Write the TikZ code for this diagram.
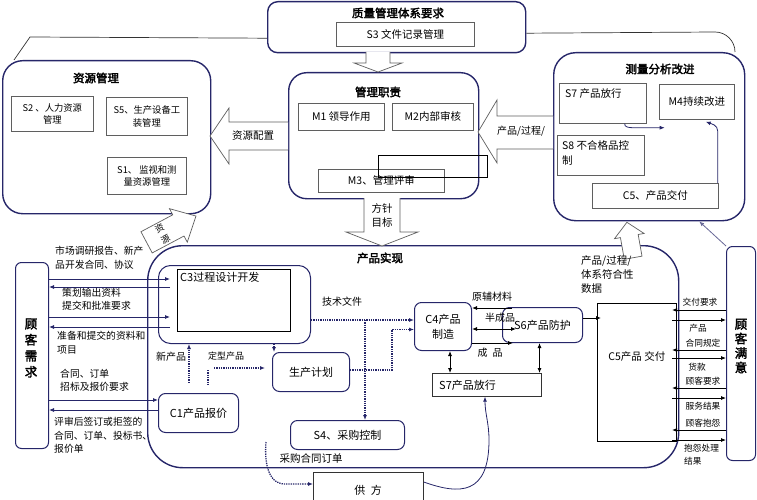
\documentclass[tikz,border=0pt]{standalone}
\usepackage{fontspec}
\newfontfamily\cjk[AutoFakeBold=2.5]{Noto Sans CJK SC}
\usetikzlibrary{arrows.meta,positioning}
\definecolor{navy}{RGB}{38,38,105}
\definecolor{boxgray}{RGB}{95,95,95}

\begin{document}
\begin{tikzpicture}[x=1pt,y=-1pt,
  font=\cjk\fontsize{10}{12}\selectfont,
  big/.style={draw=navy,line width=1.4pt,anchor=north west,inner sep=0pt},
  rbox/.style={draw=navy,line width=1pt,rounded corners=7pt,anchor=north west,inner sep=0pt,
    font=\cjk\fontsize{11}{13}\selectfont},
  inbox/.style={draw=boxgray,line width=0.7pt,anchor=north west,inner sep=0pt,align=center,
    font=\cjk\fontsize{10.5}{13}\selectfont},
  smallbox/.style={inbox,font=\cjk\fontsize{9.3}{12.5}\selectfont},
  title/.style={font=\cjk\bfseries\fontsize{11.5}{13}\selectfont},
  lab/.style={inner sep=0pt,align=left,font=\cjk\fontsize{9.8}{13.5}\selectfont},
  rlab/.style={inner sep=0pt,font=\cjk\fontsize{8.7}{13}\selectfont},
  arr/.style={-{Latex[length=5pt,width=4pt]},draw=navy,line width=0.8pt},
  barr/.style={-{Latex[length=5pt,width=4pt]},line width=0.8pt},
  both/.style={{Latex[length=5pt,width=4pt]}-{Latex[length=5pt,width=4pt]},line width=0.8pt},
  dots/.style={draw=navy,densely dotted,line width=1.3pt},
  hollow/.style={draw=boxgray,line width=0.7pt,fill=white},
  link/.style={draw=black!80,line width=0.7pt}]
\useasboundingbox (0,0) rectangle (757,500);

% quality system
\node[big,rounded corners=10pt,minimum width=258pt,minimum height=51pt] (qms) at (267,1) {};
\node[title] (qmsT) at (398,13) {质量管理体系要求};
\node[inbox,minimum width=138pt,minimum height=24pt] (s3) at (336,22) {S3 文件记录管理};

% management
\node[big,rounded corners=18pt,minimum width=190pt,minimum height=126pt] (mgt) at (288,72) {};
\node[title] (mgtT) at (378,92) {管理职责};
\node[inbox,minimum width=86pt,minimum height=27pt] (m1) at (298,103) {M1 领导作用};
\node[inbox,minimum width=81pt,minimum height=27pt] (m2) at (392,103) {M2内部审核};
\node[inbox,minimum width=126pt,minimum height=23pt] (m3) at (318,169) {M3、管理评审};

% resources
\node[big,rounded corners=20pt,minimum width=208pt,minimum height=153pt] (res) at (2,60) {};
\node[title] (resT) at (96,78) {资源管理};
\node[smallbox,minimum width=82pt,minimum height=35pt] (s2) at (11,96) {S2 、人力资源\\管理};
\node[smallbox,minimum width=81pt,minimum height=38pt] (s5) at (106,97) {S5、生产设备工\\装管理};
\node[smallbox,minimum width=79pt,minimum height=37pt] (s1) at (107,157) {S1、 监视和测\\量资源管理};

% measurement
\node[big,rounded corners=22pt,minimum width=191pt,minimum height=168pt] (msr) at (553,52) {};
\node[title] (msrT) at (660,69) {测量分析改进};
\node[inbox,minimum width=87pt,minimum height=40pt,
  label={[lab,font=\cjk\fontsize{10.5}{15}\selectfont,anchor=north west,xshift=6pt,yshift=-5pt]north west:S7 产品放行}] (s7m) at (559,83) {};
\node[inbox,minimum width=75pt,minimum height=35pt] (m4) at (659,84) {M4持续改进};
\node[inbox,minimum width=87pt,minimum height=40pt,
  label={[lab,font=\cjk\fontsize{10.5}{15}\selectfont,anchor=north west,xshift=5pt,yshift=-5pt]north west:{S8 不合格品控\\制}}] (s8) at (557,135) {};
\node[inbox,minimum width=126pt,minimum height=25pt] (c5m) at (592,183) {C5、产品交付};
\draw[arr] ([xshift=-22pt]s7m.south east) to[out=-100,in=180] ++(8,4) -- ++(32,0);
\draw[arr] ([xshift=-1pt]c5m.north east) -- ++(0,-52) to[out=90,in=-20] ([xshift=-29pt,yshift=-2pt]m4.south east);

% product realization
\node[big,rounded corners=35pt,minimum width=531pt,minimum height=222pt] (real) at (147,245) {};
\node[title] (realT) at (380,258) {产品实现};
\node[rbox,rounded corners=12pt,minimum width=152pt,minimum height=78pt] (c3) at (158,265) {};
\node[inbox,draw=black,minimum width=113pt,minimum height=62pt,
  label={[lab,font=\cjk\fontsize{11}{13}\selectfont,anchor=north west,xshift=3pt,yshift=-3pt]north west:C3过程设计开发}] (c3in) at (177,269) {};
\node[rbox,minimum width=77pt,minimum height=39pt] (plan) at (272,352) {生产计划};
\node[rbox,minimum width=80pt,minimum height=39pt] (c1) at (158,393) {C1产品报价};
\node[rbox,minimum width=114pt,minimum height=29pt] (s4) at (290,420) {S4、采购控制};
\node[rbox,minimum width=57pt,minimum height=48pt,align=center,font=\cjk\fontsize{11}{15}\selectfont] (c4) at (414,302) {C4产品\\制造};
\node[rbox,minimum width=80pt,minimum height=35pt] (s6) at (502,307) {S6产品防护};
\node[inbox,draw=black!80,minimum width=109pt,minimum height=23pt,
  label={[lab,font=\cjk\fontsize{11}{13}\selectfont,anchor=west,xshift=7pt]west:S7产品放行}] (s7) at (432,373) {};
\node[inbox,draw=black,minimum width=79pt,minimum height=138pt,
  label={[font=\cjk\fontsize{10.5}{13}\selectfont,yshift=-62pt]north:C5产品 交付}] (c5) at (597,303) {};
\node[inbox,draw=black!80,minimum width=110pt,minimum height=40pt] (sup) at (313,472) {};
\node[font=\cjk\fontsize{11}{13}\selectfont] (supT) at (368,490) {供\enspace 方};

% customers
\node[rbox,rounded corners=6pt,minimum width=33pt,minimum height=186pt] (cn) at (15,262) {};
\node[align=center,font=\cjk\bfseries\fontsize{12.5}{16}\selectfont] (cnT) at (31,348) {顾\\客\\需\\求};
\node[rbox,rounded corners=6pt,minimum width=29pt,minimum height=214pt] (cs) at (726,246) {};
\node[align=center,font=\cjk\bfseries\fontsize{12.5}{14.5}\selectfont] (csT) at (741,346) {顾\\客\\满\\意};

% hollow arrows
\draw[hollow] (366,52) -- (366,63) -- (354,63) -- (378,72) -- (402,63) -- (390,63) -- (390,52);
\draw[hollow] (364,198) -- (364,232) -- (346,232) -- (382,246) -- (418,232) -- (400,232) -- (400,198);
\node[align=center,font=\cjk\fontsize{10.5}{14}\selectfont] (aim) at (382,215) {方针\\目标};
\draw[hollow] (288,122) -- (229,122) -- (229,108) -- (210,136) -- (229,164) -- (229,150) -- (288,150);
\node[font=\cjk\fontsize{10.5}{12}\selectfont] (rescfg) at (253,136) {资源配置};
\draw[hollow] (553,116) -- (497,116) -- (497,100) -- (478,132) -- (497,163) -- (497,149) -- (553,149);
\node (prc) at (521,131) {产品/过程/};
\draw[black,line width=0.8pt] (378,155) rectangle (487,177);
\begin{scope}[shift={(166,232)},rotate=28]
\draw[hollow] (-22,-12) -- (14,-12) -- (14,-19) -- (34,0) -- (14,19) -- (14,12) -- (-22,12) -- cycle;
\node[rotate=28,align=center,inner sep=0pt,font=\cjk\fontsize{9}{12.5}\selectfont] (resA) at (-4,0) {资\\源};
\end{scope}
\begin{scope}[shift={(630,240)},rotate=100]
\draw[hollow] (-18,-9) -- (4,-9) -- (4,-15) -- (18,0) -- (4,15) -- (4,9) -- (-18,9) -- cycle;
\end{scope}

% links around the top
\draw[link] ([yshift=-11pt]qms.west) -- (30,37) -- (14,60);
\draw[link] ([yshift=-6pt]qms.east) -- (715,32) to[out=0,in=90] (735,52);
\draw[arr,draw=navy!70] (cs.north west) -- ([xshift=50pt]msr.south);

% customer needs side
\coordinate (c3l) at ([xshift=-7pt]c3in.west);
\draw[arr] (cn.east |- 0,279) -- (c3l |- 0,279);
\draw[arr] (c3l |- 0,287) -- (cn.east |- 0,287);
\draw[arr] (cn.east |- 0,317) -- (c3l |- 0,317);
\draw[arr] (c3l |- 0,327) -- (cn.east |- 0,327);
\draw[arr] (cn.east |- 0,400) -- (c1.west |- 0,400);
\draw[arr] (c1.west |- 0,410) -- (cn.east |- 0,410);
\node[lab,anchor=north west] (t1) at (55,246) {市场调研报告、新产\\品开发合同、协议};
\node[lab,anchor=north west] (t2) at (62,288) {策划输出资料\\提交和批准要求};
\node[lab,anchor=north west] (t3) at (57,331) {准备和提交的资料和\\项目};
\node[lab,anchor=north west] (t4) at (60,369) {合同、订单\\招标及报价要求};
\node[lab,anchor=north west] (t5) at (54,417) {评审后签订或拒签的\\合同、订单、投标书、\\报价单};

% dotted flows
\coordinate (np) at (189,383);
\draw[dots,-{Latex[length=5pt,width=4pt]}] (np) -- (np |- c3.south);
\node (tnp) at (171,357) {新产品};
\node[font=\cjk\fontsize{9}{11}\selectfont] (tdx) at (226,356) {定型产品};
\draw[dots] (208,370) -- (208,384);
\coordinate (dx) at (214,368);
\draw[dots,-{Latex[length=5pt,width=4pt]}] (dx) -- ([xshift=-7pt]plan.west |- dx);
\coordinate (pp) at ([xshift=2pt]plan.north west);
\draw[dots,-{Latex[length=5pt,width=4pt]}] (c3.south -| pp) -- (pp);
\coordinate (tf) at (365,320);
\draw[dots,-{Latex[length=5pt,width=4pt]}] (c3.east |- tf) -- (c4.west |- tf);
\draw[dots,-{Latex[length=5pt,width=4pt]}] (tf) -- (tf |- s4.north);
\node (ttf) at (342,302) {技术文件};
\draw[dots,-{Latex[length=5pt,width=4pt]}] ([yshift=2pt]plan.east) -- ++(42,0) |- ([yshift=-3pt]c4.west);
\coordinate (po) at (266,442);
\draw[dots,-{Latex[length=5pt,width=4pt]}] (po) to[out=-95,in=180] (285,484) -- (sup.west |- 0,484);
\node[font=\cjk\fontsize{10.5}{12}\selectfont] (tpo) at (311,458) {采购合同订单};

% manufacturing
\draw[barr] (512,308) -- (c4.east |- 0,308);
\node (tyf) at (492,297) {原辅材料};
\draw[both] (c4.east |- 0,329) -- (516,329);
\node (tbc) at (500,318) {半成品};
\draw[barr] (c4.east |- 0,343) -- (513,343);
\node (tcp) at (490,353) {成\enspace 品};
\draw[both] ([xshift=7pt]c4.south) -- ([xshift=7pt]c4.south |- s7.north);
\draw[both] ([xshift=-3pt]s6.south) -- ([xshift=-3pt]s6.south |- s7.north);
\coordinate (s6o) at ([yshift=7pt]s6.east);
\draw[barr] (s6o) -- ([xshift=4pt]c5.west |- s6o);
\coordinate (sv) at (485,0);
\draw[arr] (sup.east |- 0,482) .. controls (460,495) and (489,495) .. (489,440) to[out=90,in=-90] (sv |- s7.south);

% delivery side
\node[align=left,font=\cjk\fontsize{10.5}{14}\selectfont,anchor=north west,inner sep=0pt] (tdata) at (581,255) {产品/过程/\\体系符合性\\数据};
\coordinate (c5r) at (672,0);
\foreach \yl/\yr in {310/320,350/358,388/398,430/440}{
  \draw[barr] (cs.west |- 0,\yl) -- (c5r |- 0,\yl);
  \draw[barr] (c5r |- 0,\yr) -- (cs.west |- 0,\yr);
}
\node[rlab] (r1) at (700,302) {交付要求};
\node[rlab] (r2) at (698,328) {产品};
\node[rlab] (r3) at (703,343) {合同规定};
\node[rlab] (r4) at (697,367) {货款};
\node[rlab] (r5) at (703,381) {顾客要求};
\node[rlab] (r6) at (703,406) {服务结果};
\node[rlab] (r7) at (703,423) {顾客抱怨};
\node[rlab,align=left,anchor=north west] (r8) at (684,444) {抱怨处理\\结果};
\end{tikzpicture}
\end{document}
